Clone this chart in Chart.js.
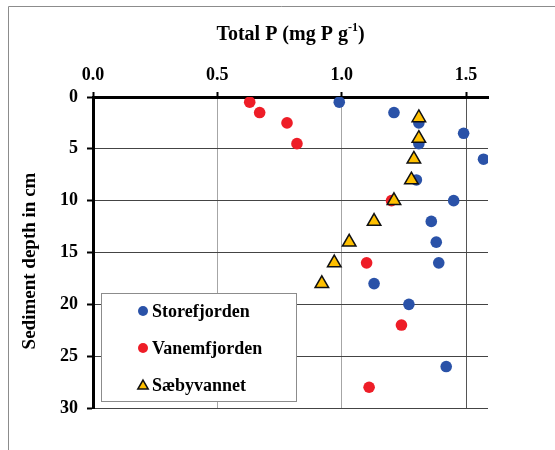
<!DOCTYPE html>
<html>
<head>
<meta charset="utf-8">
<script src="https://cdn.jsdelivr.net/npm/chart.js@4/dist/chart.umd.min.js"></script>
<style>
  body { margin: 0; background: #fff; }
  #wrap { width: 555px; height: 450px; }
</style>
</head>
<body>
<div id="wrap"><canvas id="chart" width="555" height="450"></canvas></div>
<script>
// values: total P (x) vs sediment depth (y)
const storeX = [0.99, 1.21, 1.31, 1.49, 1.31, 1.57, 1.30, 1.45, 1.36, 1.38, 1.39, 1.13, 1.27, 1.42];
const storeY = [0.5, 1.5, 2.5, 3.5, 4.5, 6, 8, 10, 12, 14, 16, 18, 20, 26];

const vanemX = [0.63, 0.67, 0.78, 0.82, 1.20, 1.10, 1.24, 1.11];
const vanemY = [0.5, 1.5, 2.5, 4.5, 10, 16, 22, 28];

const saebyX = [1.31, 1.31, 1.29, 1.28, 1.21, 1.13, 1.03, 0.97, 0.92];
const saebyY = [2, 4, 6, 8, 10, 12, 14, 16, 18];

const seriesNames = ["Storefjorden", "Vanemfjorden", "Sæbyvannet"];
const xTicks = [0, 0.5, 1.0, 1.5];
const yTicks = [0, 5, 10, 15, 20, 25, 30];

const FONT = "'Liberation Serif', 'Times New Roman', serif";

const toPoints = (xs, ys) => xs.map((x, i) => ({ x, y: ys[i] }));

// title, frame and the boxed legend
const decor = {
  id: "decor",
  beforeDraw(chart) {
    const c = chart.ctx;
    c.save();
    c.strokeStyle = "#8c8c8c";
    c.lineWidth = 1;
    c.beginPath();
    c.moveTo(8.5, 450);
    c.lineTo(8.5, 6.5);
    c.lineTo(555, 6.5);
    c.stroke();
    c.restore();
  },
  afterDraw(chart) {
    const c = chart.ctx;
    const area = chart.chartArea;
    c.save();

    // top title with superscript
    const main = "Total P (mg P g";
    const sup = "-1";
    const end = ")";
    c.fillStyle = "#000";
    c.textBaseline = "alphabetic";
    c.font = "bold 20px " + FONT;
    const w1 = c.measureText(main).width;
    const w3 = c.measureText(end).width;
    c.font = "bold 12px " + FONT;
    const w2 = c.measureText(sup).width;
    let x = (area.left + area.right) / 2 - (w1 + w2 + w3) / 2;
    c.font = "bold 20px " + FONT;
    c.fillText(main, x, 40);
    c.font = "bold 12px " + FONT;
    c.fillText(sup, x + w1, 31);
    c.font = "bold 20px " + FONT;
    c.fillText(end, x + w1 + w2, 40);

    // y axis title
    c.save();
    c.translate(35, 261);
    c.rotate(-Math.PI / 2);
    c.textAlign = "center";
    c.font = "bold 19px " + FONT;
    c.fillText("Sediment depth in cm", 0, 0);
    c.restore();

    // legend box
    c.fillStyle = "#fff";
    c.fillRect(101, 293, 196, 109);
    c.strokeStyle = "#8c8c8c";
    c.lineWidth = 1;
    c.strokeRect(101.5, 293.5, 195, 108);
    c.font = "bold 18px " + FONT;
    c.textBaseline = "middle";
    chart.data.datasets.forEach((ds, i) => {
      const y = 311 + i * 37;
      c.fillStyle = ds.backgroundColor;
      c.strokeStyle = ds.borderColor;
      c.lineWidth = ds.borderWidth;
      Chart.helpers.drawPoint(c, {
        pointStyle: ds.pointStyle,
        radius: ds.pointStyle === "triangle" ? 6 : 5,
        borderWidth: ds.borderWidth
      }, 143, y + (ds.pointStyle === "triangle" ? 1 : 0));
      c.fillStyle = "#000";
      c.fillText(ds.label, 152, y + 1);
    });

    c.restore();
  }
};

const ctx = document.getElementById("chart");

new Chart(ctx, {
  type: "scatter",
  data: {
    datasets: [
      {
        label: seriesNames[0],
        data: toPoints(storeX, storeY),
        pointStyle: "circle",
        backgroundColor: "#2a52a8",
        borderColor: "#2a52a8",
        borderWidth: 0,
        pointRadius: 5.8,
        order: 2
      },
      {
        label: seriesNames[1],
        data: toPoints(vanemX, vanemY),
        pointStyle: "circle",
        backgroundColor: "#ee1d27",
        borderColor: "#ee1d27",
        borderWidth: 0,
        pointRadius: 5.8,
        order: 3
      },
      {
        label: seriesNames[2],
        data: toPoints(saebyX, saebyY),
        pointStyle: "triangle",
        backgroundColor: "#ffc000",
        borderColor: "#111",
        borderWidth: 1.5,
        pointRadius: 7.8,
        order: 1
      }
    ]
  },
  options: {
    responsive: false,
    animation: false,
    layout: { padding: { left: 0, top: 0, right: 67, bottom: 42 } },
    plugins: {
      legend: { display: false },
      tooltip: { enabled: false }
    },
    scales: {
      x: {
        type: "linear",
        position: "top",
        min: 0,
        max: 1.588,
        afterFit: s => { s.height = 97; },
        afterBuildTicks: s => { s.ticks = xTicks.map(v => ({ value: v })); },
        border: { display: true, color: "#000", width: 3 },
        grid: {
          color: c => c.tick && c.tick.value === 0 ? "rgba(0,0,0,0)" : (c.tick && c.tick.value === 1.5 ? "#555" : "#a6a6a6"),
          lineWidth: 1,
          tickColor: "#000",
          tickWidth: 2,
          tickLength: 5
        },
        ticks: {
          padding: 6,
          color: "#000",
          font: { family: FONT, size: 18, weight: "bold" },
          callback: v => v.toFixed(1)
        }
      },
      y: {
        type: "linear",
        reverse: true,
        min: 0,
        max: 30,
        afterFit: s => { s.width = 93; },
        afterBuildTicks: s => { s.ticks = yTicks.map(v => ({ value: v })); },
        border: { display: true, color: "#000", width: 3 },
        grid: {
          color: c => c.tick && c.tick.value === 0 ? "rgba(0,0,0,0)" : "#444",
          lineWidth: 1,
          tickColor: "#000",
          tickWidth: 2,
          tickLength: 6
        },
        ticks: {
          padding: 9,
          color: "#000",
          font: { family: FONT, size: 18, weight: "bold" }
        }
      }
    }
  },
  plugins: [decor]
});
</script>
</body>
</html>
